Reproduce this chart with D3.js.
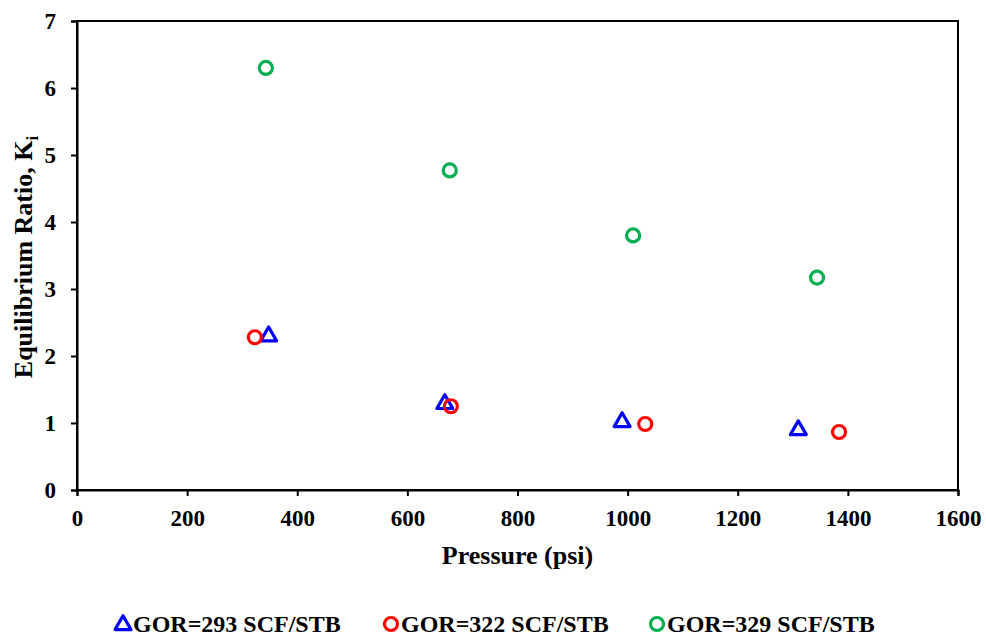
<!DOCTYPE html>
<html><head><meta charset="utf-8">
<script src="https://cdn.jsdelivr.net/npm/d3@7/dist/d3.min.js"></script>
<style>body{margin:0;background:#fff;} svg{display:block;} text{font-family:"Liberation Serif","Times New Roman",serif;font-weight:bold;}</style>
</head><body><svg id="c" width="986" height="637"></svg>
<script>
const seriesNames = ["GOR=293 SCF/STB","GOR=322 SCF/STB","GOR=329 SCF/STB"];
const seriesColors = ["#0000FF","#FF0000","#00B050"];
const seriesShapes = ["triangle","circle","circle"];
const pressure293 = [348, 668, 990, 1310];
const k293 = [2.31, 1.30, 1.03, 0.91];
const pressure322 = [323, 679, 1032, 1384];
const k322 = [2.28, 1.25, 0.985, 0.866];
const pressure329 = [343, 677, 1010, 1344];
const k329 = [6.30, 4.77, 3.80, 3.17];
const xTicks = [0,200,400,600,800,1000,1200,1400,1600];
const yTicks = [0,1,2,3,4,5,6,7];

const series = [
  {x: pressure293, y: k293},
  {x: pressure322, y: k322},
  {x: pressure329, y: k329}
];

const svg = d3.select("#c");
const L = 77, R = 958, T = 21, B = 490;
const x = d3.scaleLinear().domain([0,1600]).range([L,R]);
const y = d3.scaleLinear().domain([0,7]).range([B,T]);

// frame
svg.append("rect").attr("x",L).attr("y",T).attr("width",R-L).attr("height",B-T)
  .attr("fill","none").attr("stroke","#000").attr("stroke-width",2);

const xa = svg.append("g").attr("transform",`translate(0,${B})`)
  .call(d3.axisBottom(x).tickValues(xTicks).tickSize(6).tickPadding(14).tickFormat(d3.format("d")));
const ya = svg.append("g").attr("transform",`translate(${L},0)`)
  .call(d3.axisLeft(y).tickValues(yTicks).tickSize(6).tickPadding(15).tickFormat(d3.format("d")));
[xa,ya].forEach(a=>{
  a.select(".domain").attr("stroke","#000").attr("stroke-width",2);
  a.selectAll(".tick line").attr("stroke","#000").attr("stroke-width",2);
  a.selectAll(".tick text").attr("fill","#000").style("font-size","23px")
    .style("font-family","'Liberation Serif',serif").style("font-weight","bold");
});

svg.append("text").attr("x",(L+R)/2 - 0).attr("y",564).attr("text-anchor","middle")
  .style("font-size","26px").text("Pressure (psi)");
const yt = svg.append("text").attr("transform",`translate(32,257) rotate(-90)`)
  .attr("text-anchor","middle").style("font-size","26px");
yt.append("tspan").text("Equilibrium Ratio, K");
yt.append("tspan").attr("dy",6).style("font-size","17px").text("i");

const tri = d3.symbol().type(d3.symbolTriangle).size(110);
series.forEach((s,i)=>{
  const pts = s.x.map((v,j)=>[v,s.y[j]]);
  const g = svg.append("g");
  if (seriesShapes[i]==="triangle") {
    g.selectAll("path").data(pts).join("path")
      .attr("d",tri).attr("transform",d=>`translate(${x(d[0])},${y(d[1])+1})`)
      .attr("fill","none").attr("stroke",seriesColors[i]).attr("stroke-width",3.2).attr("stroke-linejoin","round");
  } else {
    g.selectAll("circle").data(pts).join("circle")
      .attr("cx",d=>x(d[0])).attr("cy",d=>y(d[1])).attr("r",6.5)
      .attr("fill","none").attr("stroke",seriesColors[i]).attr("stroke-width",3.2);
  }
});

// legend
const legX = [123, 391, 657];
const legY = 624;
seriesNames.forEach((n,i)=>{
  if (seriesShapes[i]==="triangle") {
    svg.append("path").attr("d",tri).attr("transform",`translate(${legX[i]},${legY+1})`)
      .attr("fill","none").attr("stroke",seriesColors[i]).attr("stroke-width",3.2).attr("stroke-linejoin","round");
  } else {
    svg.append("circle").attr("cx",legX[i]).attr("cy",legY).attr("r",6.5)
      .attr("fill","none").attr("stroke",seriesColors[i]).attr("stroke-width",3.2);
  }
  svg.append("text").attr("x",legX[i]+10).attr("y",legY+8).style("font-size","24px").text(n);
});
</script></body></html>
